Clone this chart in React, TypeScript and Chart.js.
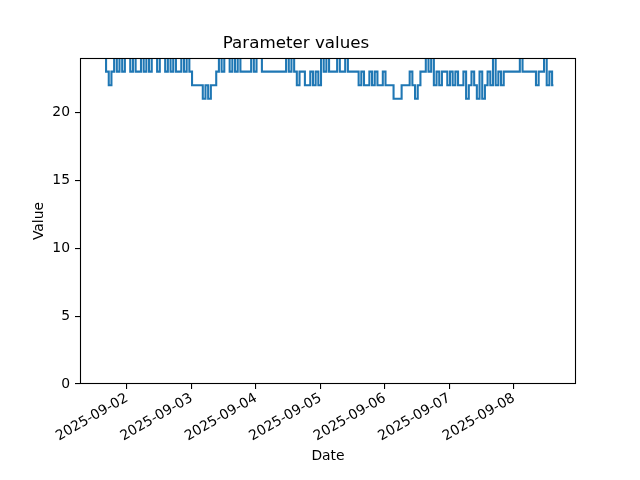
import React, { useEffect, useRef } from "react";
import { Chart, registerables } from "chart.js";

Chart.register(...registerables);

// time in hours after 2025-09-01 00:00
const START_HOUR = 15.7;
const STEP_HOURS = 1;

const VALUES: number[] = [
  24, 23, 22, 23, 24, 23, 24, 23, 24, 24,
  23, 24, 23, 23, 24, 23, 24, 23, 24, 24,
  23, 24, 24, 23, 24, 23, 24, 23, 23, 24,
  23, 24, 23, 22, 22, 22, 22, 21, 22, 21,
  22, 22, 23, 24, 23, 24, 24, 23, 24, 23,
  24, 23, 23, 23, 23, 24, 23, 24, 24, 23,
  23, 23, 23, 23, 23, 23, 23, 23, 24, 23,
  24, 23, 22, 23, 23, 22, 22, 23, 22, 23,
  22, 24, 23, 24, 23, 23, 23, 24, 23, 23,
  24, 23, 23, 23, 23, 22, 23, 22, 22, 23,
  22, 23, 22, 22, 23, 22, 22, 22, 21, 21,
  21, 22, 22, 22, 23, 22, 21, 22, 23, 23,
  24, 23, 24, 22, 23, 22, 23, 23, 22, 23,
  22, 23, 22, 22, 23, 21, 22, 23, 22, 21,
  23, 21, 22, 23, 22, 24, 22, 23, 22, 23,
  23, 23, 23, 23, 23, 24, 23, 23, 23, 23,
  23, 22, 23, 23, 24, 22, 23, 22,
];

const TICK_HOURS = [24, 48, 72, 96, 120, 144, 168];
const TICK_LABELS = [
  "2025-09-02",
  "2025-09-03",
  "2025-09-04",
  "2025-09-05",
  "2025-09-06",
  "2025-09-07",
  "2025-09-08",
];
const Y_TICKS = [0, 5, 10, 15, 20];

const X_MIN = 6.5;
const X_MAX = 191.1;
const Y_MIN = 0;
const Y_MAX = 24;

const FONT = "'DejaVu Sans', sans-serif";

const framePlugin = {
  id: "frame",
  afterDatasetsDraw(chart: any) {
    const { ctx, chartArea } = chart;
    ctx.save();
    ctx.strokeStyle = "#000";
    ctx.lineWidth = 1.1;
    ctx.strokeRect(
      Math.round(chartArea.left) + 0.5,
      Math.round(chartArea.top) + 0.5,
      Math.round(chartArea.right - chartArea.left) - 1,
      Math.round(chartArea.bottom - chartArea.top) - 1
    );
    ctx.restore();
  },
};

export default function App() {
  const ref = useRef<HTMLCanvasElement | null>(null);

  useEffect(() => {
    if (!ref.current) return;
    const points = VALUES.map((v, i) => ({ x: START_HOUR + i * STEP_HOURS, y: v }));
    const chart = new Chart(ref.current, {
      type: "line",
      data: {
        datasets: [
          {
            data: points,
            borderColor: "#1f77b4",
            borderWidth: 2.08,
            pointRadius: 0,
            stepped: "middle",
            fill: false,
            clip: 0,
          } as any,
        ],
      },
      options: {
        animation: false,
        responsive: false,
        layout: { padding: { left: 16, right: 64, top: 0, bottom: 0 } },
        plugins: {
          legend: { display: false },
          tooltip: { enabled: false },
          title: {
            display: true,
            text: "Parameter values",
            color: "#000",
            font: { family: FONT, size: 16.7, weight: "normal" as any },
            padding: { top: 34, bottom: 4 },
          },
        },
        scales: {
          x: {
            type: "linear",
            min: X_MIN,
            max: X_MAX,
            afterFit(scale: any) {
              scale.height = 96;
            },
            afterBuildTicks(axis: any) {
              axis.ticks = TICK_HOURS.map((v) => ({ value: v }));
            },
            ticks: {
              autoSkip: false,
              maxRotation: 30,
              minRotation: 30,
              padding: 1,
              color: "#000",
              font: { family: FONT, size: 13.9 },
              callback: (v: any) => {
                const idx = TICK_HOURS.indexOf(Number(v));
                return idx >= 0 ? TICK_LABELS[idx] : "";
              },
            },
            grid: {
              display: true,
              drawOnChartArea: false,
              drawTicks: true,
              tickLength: 5,
              lineWidth: 1.1,
              color: "#000",
            },
            border: { display: false },
            title: {
              display: true,
              text: "Date",
              color: "#000",
              font: { family: FONT, size: 13.9 },
              padding: { top: 4, bottom: 15 },
            },
          },
          y: {
            type: "linear",
            min: Y_MIN,
            max: Y_MAX,
            afterFit(scale: any) {
              scale.width = 64;
            },
            afterBuildTicks(axis: any) {
              axis.ticks = Y_TICKS.map((v) => ({ value: v }));
            },
            ticks: {
              padding: 5,
              color: "#000",
              font: { family: FONT, size: 13.9 },
            },
            grid: {
              display: true,
              drawOnChartArea: false,
              drawTicks: true,
              tickLength: 5,
              lineWidth: 1.1,
              color: "#000",
            },
            border: { display: false },
            title: {
              display: true,
              text: "Value",
              color: "#000",
              font: { family: FONT, size: 13.9 },
              padding: { top: 15, bottom: 4 },
            },
          },
        },
      },
      plugins: [framePlugin],
    });
    return () => chart.destroy();
  }, []);

  return (
    <canvas
      ref={ref}
      width={640}
      height={480}
      style={{ position: "fixed", left: 0, top: 0, display: "block", width: 640, height: 480 }}
    />
  );
}
